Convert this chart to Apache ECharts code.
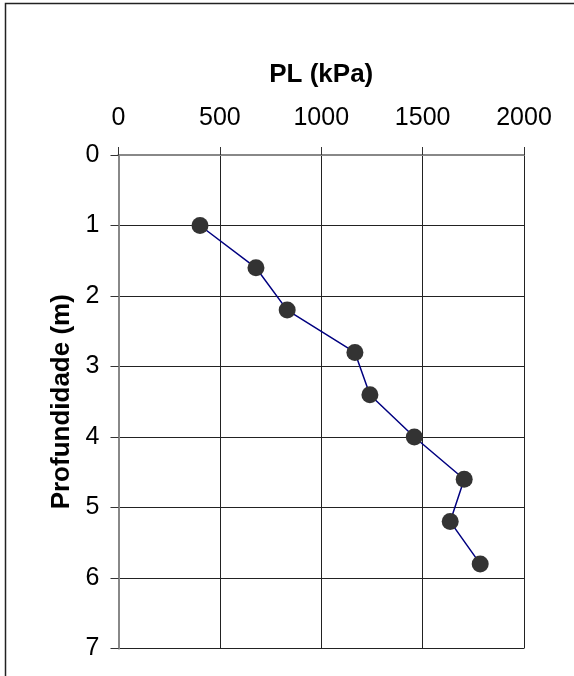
<!DOCTYPE html>
<html>
<head>
<meta charset="utf-8">
<script src="https://cdn.jsdelivr.net/npm/echarts@6/dist/echarts.min.js"></script>
<style>
  html, body { margin: 0; padding: 0; background: #fff; }
  #chart { width: 574px; height: 676px; }
</style>
</head>
<body>
<div id="chart"></div>
<script>
// Pressiometer limit pressure profile
const plValues = [402, 678, 832, 1166, 1240, 1459, 1705, 1636, 1784];
const depths = [1.0, 1.6, 2.2, 2.8, 3.4, 4.0, 4.6, 5.2, 5.8];
const xTicks = { min: 0, max: 2000, step: 500 };
const yTicks = { min: 0, max: 7, step: 1 };

const points = plValues.map((v, i) => [v, depths[i]]);
const font = '"Liberation Sans", Arial, sans-serif';

const chart = echarts.init(document.getElementById('chart'), null, { renderer: 'canvas' });
chart.setOption({
  animation: false,
  backgroundColor: '#fff',
  graphic: [{
    type: 'rect',
    shape: { x: 5.5, y: 3.5, width: 700, height: 800 },
    style: { fill: 'none', stroke: '#222', lineWidth: 1.5 },
    z: 0
  }],
  grid: { left: 118.5, top: 155, right: 50, bottom: 27.5, containLabel: false },
  xAxis: [{
    type: 'value',
    position: 'top',
    min: xTicks.min, max: xTicks.max, interval: xTicks.step,
    name: 'PL (kPa)',
    nameLocation: 'middle',
    nameGap: 67,
    nameTextStyle: { fontFamily: font, fontSize: 26, fontWeight: 'bold', color: '#000' },
    axisLine: { show: true, lineStyle: { color: '#333', width: 1.5 } },
    axisTick: { show: true, inside: false, length: 8, lineStyle: { color: '#333' } },
    axisLabel: { margin: 24, fontFamily: font, fontSize: 25, color: '#000', formatter: v => String(v) },
    splitLine: { show: true, lineStyle: { color: '#222', width: 1 } }
  }, {
    type: 'value',
    position: 'bottom',
    min: xTicks.min, max: xTicks.max,
    axisLine: { show: true, lineStyle: { color: '#888', width: 2 } },
    axisTick: { show: false }, axisLabel: { show: false }, splitLine: { show: false }
  }],
  yAxis: [{
    type: 'value',
    inverse: true,
    min: yTicks.min, max: yTicks.max, interval: yTicks.step,
    name: 'Profundidade (m)',
    nameLocation: 'middle',
    nameGap: 42,
    nameTextStyle: { fontFamily: font, fontSize: 26, fontWeight: 'bold', color: '#000' },
    axisLine: { show: true, lineStyle: { color: '#333', width: 1.5 } },
    axisTick: { show: true, inside: false, length: 8, lineStyle: { color: '#333' } },
    axisLabel: { margin: 19, fontFamily: font, fontSize: 25, color: '#000', formatter: v => String(v) },
    splitLine: { show: true, lineStyle: { color: '#222', width: 1 } }
  }, {
    type: 'value',
    position: 'right',
    inverse: true,
    min: yTicks.min, max: yTicks.max,
    axisLine: { show: true, lineStyle: { color: '#888', width: 2 } },
    axisTick: { show: false }, axisLabel: { show: false }, splitLine: { show: false }
  }],
  series: [{
    type: 'line',
    xAxisIndex: 0,
    yAxisIndex: 0,
    data: points,
    symbol: 'circle',
    symbolSize: 17,
    itemStyle: { color: '#333' },
    lineStyle: { color: '#000080', width: 1.5 },
    z: 5
  }]
});
</script>
</body>
</html>
